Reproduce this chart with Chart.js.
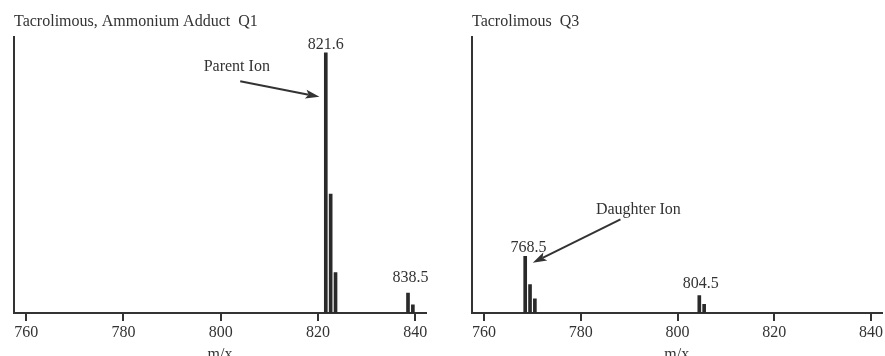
<!DOCTYPE html>
<html>
<head>
<meta charset="utf-8">
<script src="https://cdn.jsdelivr.net/npm/chart.js@4"></script>
<style>
  html, body { margin: 0; padding: 0; background: #fff; }
  #wrap { position: relative; width: 885px; height: 356px; overflow: hidden; }
  canvas { position: absolute; top: 0; }
</style>
</head>
<body>
<div id="wrap">
  <canvas id="q1" width="440" height="356" style="left:0"></canvas>
  <canvas id="q3" width="445" height="356" style="left:440px"></canvas>
</div>
<script>
// ===== DATA =====
const tickLabels = [760, 780, 800, 820, 840];

const q1Mz = [821.6, 822.6, 823.6, 838.5, 839.5];
const q1Intensity = [100, 45.7, 15.5, 7.7, 3.1];

const q3Mz = [768.5, 769.5, 770.5, 804.5, 805.5];
const q3Intensity = [21.8, 10.9, 5.4, 6.7, 3.3];

// ===== STYLE =====
const INK = "#333";
const BAR = "#2a2a2a";
const FONT = "'Liberation Serif', 'Times New Roman', serif";

// ===== LABELS + ARROWS (drawn in data units) =====
const notesPlugin = {
  id: "notes",
  afterDatasetsDraw(chart, args, opts) {
    const ctx = chart.ctx;
    const x = chart.scales.x;
    const y = chart.scales.y;
    ctx.save();
    ctx.font = "16px " + FONT;
    ctx.fillStyle = INK;
    ctx.strokeStyle = INK;
    ctx.textAlign = "center";

    (opts.labels || []).forEach(l => {
      ctx.textBaseline = l.base || "alphabetic";
      ctx.fillText(l.text, x.getPixelForValue(l.x), y.getPixelForValue(l.y));
    });

    (opts.arrows || []).forEach(a => {
      const x0 = x.getPixelForValue(a.from[0]), y0 = y.getPixelForValue(a.from[1]);
      const x1 = x.getPixelForValue(a.to[0]), y1 = y.getPixelForValue(a.to[1]);
      const ang = Math.atan2(y1 - y0, x1 - x0);
      const head = 14, half = 4.5;
      const bx = x1 - head * Math.cos(ang), by = y1 - head * Math.sin(ang);
      ctx.lineWidth = 2;
      ctx.beginPath();
      ctx.moveTo(x0, y0);
      ctx.lineTo(x1 - (head - 3) * Math.cos(ang), y1 - (head - 3) * Math.sin(ang));
      ctx.stroke();
      // slightly barbed head
      ctx.beginPath();
      ctx.moveTo(x1, y1);
      ctx.lineTo(bx + half * Math.sin(ang), by - half * Math.cos(ang));
      ctx.lineTo(x1 - (head - 3) * Math.cos(ang), y1 - (head - 3) * Math.sin(ang));
      ctx.lineTo(bx - half * Math.sin(ang), by + half * Math.cos(ang));
      ctx.closePath();
      ctx.fill();
    });
    ctx.restore();
  }
};

// ===== CHART BUILDER =====
function makeSpectrum(id, mz, intensity, title, notes, padLeft, padRight) {
  return new Chart(document.getElementById(id), {
    type: "bar",
    data: {
      datasets: [{
        data: mz.map((m, i) => ({ x: m, y: intensity[i] })),
        backgroundColor: BAR,
        borderWidth: 0,
        barThickness: 3
      }]
    },
    options: {
      responsive: false,
      animation: false,
      events: [],
      layout: { padding: { left: padLeft, right: padRight, top: 0, bottom: 0 } },
      plugins: {
        legend: { display: false },
        tooltip: { enabled: false },
        title: {
          display: true,
          text: title,
          align: "start",
          color: INK,
          font: { family: FONT, size: 16, weight: "normal" },
          padding: { top: 12, bottom: 6 }
        },
        notes: notes
      },
      scales: {
        x: {
          type: "linear",
          min: 757.5,
          max: 842.2,
          offset: false,
          afterBuildTicks: s => { s.ticks = tickLabels.map(v => ({ value: v })); },
          afterFit: s => { s.height = 43; },
          border: { display: true, color: INK, width: 2 },
          grid: { display: true, offset: false, drawOnChartArea: false, drawTicks: true,
                  tickLength: 8, color: INK, lineWidth: 2 },
          ticks: { color: INK, font: { family: FONT, size: 16 }, padding: 2, maxRotation: 0 },
          title: { display: true, text: "m/x", color: INK,
                   font: { family: FONT, size: 16 }, padding: { top: 0, bottom: -8 } }
        },
        y: {
          min: 0,
          max: 106,
          afterFit: s => { s.width = 0; },
          border: { display: true, color: INK, width: 2 },
          grid: { display: false },
          ticks: { display: false }
        }
      }
    },
    plugins: [notesPlugin]
  });
}

// ===== RUN =====
makeSpectrum("q1", q1Mz, q1Intensity, "Tacrolimous, Ammonium Adduct  Q1", {
  labels: [
    { text: "821.6", x: 821.6, y: 101.4 },
    { text: "838.5", x: 839.0, y: 12.0 },
    { text: "Parent Ion", x: 803.3, y: 94.6, base: "middle" }
  ],
  arrows: [{ from: [804.0, 89.1], to: [820.3, 83.1] }]
}, 14, 14);

makeSpectrum("q3", q3Mz, q3Intensity, "Tacrolimous  Q3", {
  labels: [
    { text: "768.5", x: 769.2, y: 23.5 },
    { text: "804.5", x: 804.8, y: 9.5 },
    { text: "Daughter Ion", x: 791.9, y: 39.6, base: "middle" }
  ],
  arrows: [{ from: [788.2, 36.0], to: [770.06, 19.3] }]
}, 32, 0);
</script>
</body>
</html>
